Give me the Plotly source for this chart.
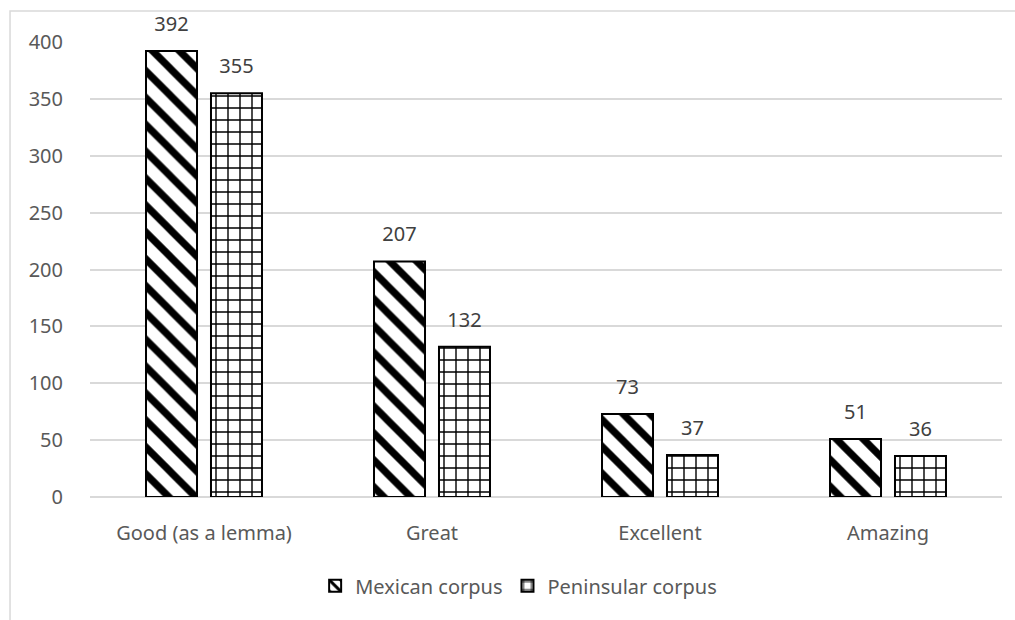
import plotly.graph_objects as go

categories = ["Good (as a lemma)", "Great", "Excellent", "Amazing"]
mexican = [392, 207, 73, 51]
peninsular = [355, 132, 37, 36]
series_names = ["Mexican corpus", "Peninsular corpus"]
y_ticks = [0, 50, 100, 150, 200, 250, 300, 350, 400]

FONT = "Noto Sans"
FS = 20
LABEL_TMPL = "<span style='font-size:20px'>%{y}</span><br> "

fig = go.Figure()
fig.add_trace(go.Bar(
    x=categories, y=mexican, name=series_names[0],
    texttemplate=LABEL_TMPL, textposition="outside",
    textfont=dict(family=FONT, size=11, color="#404040"),
    marker=dict(color="white", line=dict(color="black", width=2),
                pattern=dict(shape="\\", fgcolor="black", bgcolor="white",
                             fgopacity=1, size=19, solidity=0.38, fillmode="overlay")),
    cliponaxis=False,
))
fig.add_trace(go.Bar(
    x=categories, y=peninsular, name=series_names[1],
    texttemplate=LABEL_TMPL, textposition="outside",
    textfont=dict(family=FONT, size=11, color="#404040"),
    marker=dict(color="white", line=dict(color="black", width=2),
                pattern=dict(shape="+", fgcolor="black", bgcolor="white",
                             fgopacity=1, size=12, solidity=0.22, fillmode="overlay")),
    cliponaxis=False,
))

fig.update_layout(
    width=1015, height=620,
    margin=dict(l=90, r=13, t=42, b=123),
    paper_bgcolor="white", plot_bgcolor="white",
    barmode="group", bargap=0.43, bargroupgap=0.215,
    font=dict(family=FONT, size=FS, color="#595959"),
    showlegend=True,
    legend=dict(orientation="h", x=0.47, xanchor="center", y=-0.195, yanchor="middle",
                font=dict(family=FONT, size=FS, color="#595959"),
                itemwidth=30, tracegroupgap=0),
    shapes=[dict(type="rect", xref="paper", yref="paper",
                 x0=-0.0877, x1=1.2, y0=-0.6, y1=1.068,
                 line=dict(color="#d9d9d9", width=1.5), fillcolor="rgba(0,0,0,0)",
                 layer="below")],
)
fig.update_xaxes(showgrid=False, showline=False, ticks="",
                 tickfont=dict(family=FONT, size=FS, color="#595959"),
                 ticklabelstandoff=22)
fig.update_yaxes(range=[0, 400], tickvals=y_ticks, showgrid=True,
                 gridcolor="#d9d9d9", gridwidth=1.5, zeroline=True,
                 zerolinecolor="#d9d9d9", zerolinewidth=1.5, showline=False,
                 ticks="", tickfont=dict(family=FONT, size=FS, color="#595959"),
                 ticklabelstandoff=26)

fig.write_html("out.html")
